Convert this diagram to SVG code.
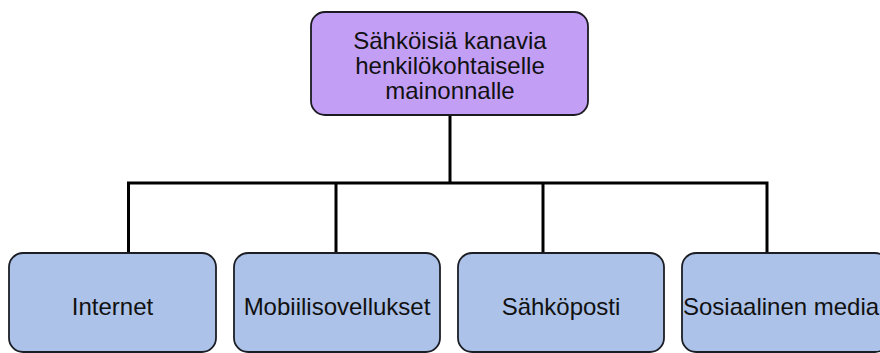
<svg xmlns="http://www.w3.org/2000/svg" width="880" height="353" viewBox="0 0 880 353">
  <style>
    .root { fill: #c39ef5; stroke: #1c1a22; stroke-width: 1.8; }
    .leaf { fill: #adc2e8; stroke: #1c1e26; stroke-width: 1.8; }
    .lbl { font-family: "Liberation Sans", Arial, sans-serif; font-size: 24px; fill: #111; }
    .wire { fill: none; stroke: #000; stroke-width: 3; stroke-linejoin: miter; }
  </style>
  <rect width="880" height="353" fill="#fff"/>

  <g id="connectors">
    <path class="wire" d="M450,115 V183"/>
    <path class="wire" d="M128.5,253 V183 H767 V253"/>
    <path class="wire" d="M336,183 V253"/>
    <path class="wire" d="M543,183 V253"/>
  </g>

  <g id="root">
    <rect class="root" x="311" y="12" width="277" height="103" rx="14"/>
    <text class="lbl" text-anchor="middle" x="450" y="49">Sähköisiä kanavia</text>
    <text class="lbl" text-anchor="middle" x="450" y="74">henkilökohtaiselle</text>
    <text class="lbl" text-anchor="middle" x="450" y="99">mainonnalle</text>
  </g>

  <g id="internet">
    <rect class="leaf" x="9" y="253" width="207" height="99" rx="14"/>
    <text class="lbl" text-anchor="middle" x="112.5" y="315">Internet</text>
  </g>

  <g id="mobiili">
    <rect class="leaf" x="234" y="253" width="206" height="99" rx="14"/>
    <text class="lbl" text-anchor="middle" x="337" y="315">Mobiilisovellukset</text>
  </g>

  <g id="sahkoposti">
    <rect class="leaf" x="458" y="253" width="206" height="99" rx="14"/>
    <text class="lbl" text-anchor="middle" x="561" y="315">Sähköposti</text>
  </g>

  <g id="some">
    <rect class="leaf" x="682" y="253" width="207" height="99" rx="14"/>
    <text class="lbl" x="683" y="315">Sosiaalinen media</text>
  </g>
</svg>
